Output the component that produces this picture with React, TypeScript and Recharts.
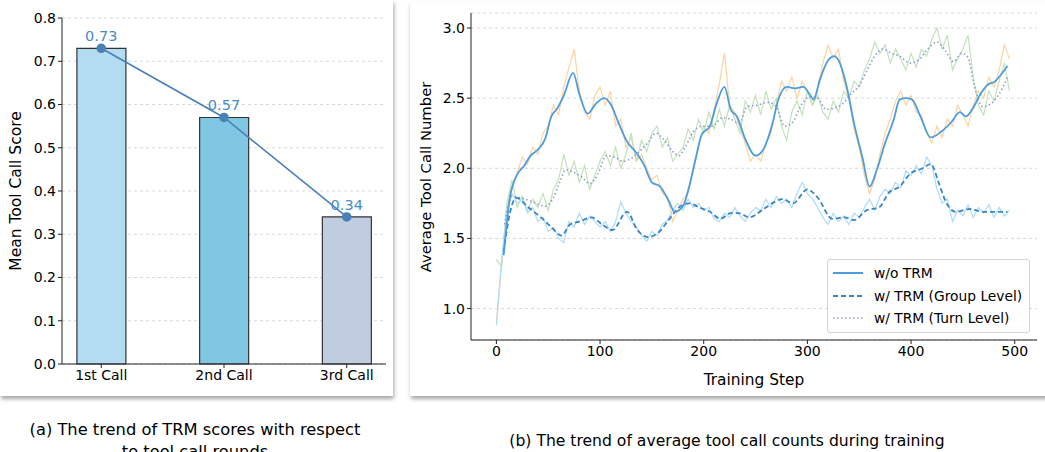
import { ComposedChart, LineChart, Bar, Cell, Line, LabelList, Label, XAxis, YAxis, CartesianGrid } from 'recharts'

const FONT = "'Comic Sans MS', 'DejaVu Sans', sans-serif"

// ---- (a) bar chart ----
const callLabels = ['1st Call', '2nd Call', '3rd Call']
const callScores = [0.73, 0.57, 0.34]
const barColors = ['#b3dcf2', '#7fc7e3', '#c0cde0']
const scoreTicks = [0, 0.1, 0.2, 0.3, 0.4, 0.5, 0.6, 0.7, 0.8]

// ---- (b) training curves ----
const stepTicks = [0, 100, 200, 300, 400, 500]
const countTicks = [1.0, 1.5, 2.0, 2.5, 3.0]

// raw logs sampled every 5 steps (0..495)
const rawSteps = Array.from({ length: 100 }, (_, i) => i * 5)
const rawNoTrm = [
  0.90, 1.30, 1.70, 1.88, 1.97, 2.08, 2.03, 2.15, 2.10, 2.25,
  2.30, 2.45, 2.38, 2.58, 2.72, 2.85, 2.55, 2.40, 2.35, 2.52,
  2.58, 2.45, 2.55, 2.30, 2.35, 2.15, 2.22, 2.05, 2.10, 2.00,
  1.92, 1.95, 1.82, 1.80, 1.62, 1.70, 1.78, 1.82, 2.02, 2.15,
  2.30, 2.25, 2.42, 2.60, 2.82, 2.45, 2.40, 2.28, 2.18, 2.05,
  2.10, 2.05, 2.18, 2.25, 2.45, 2.62, 2.55, 2.65, 2.50, 2.62,
  2.55, 2.45, 2.58, 2.75, 2.88, 2.78, 2.85, 2.62, 2.50, 2.28,
  2.15, 1.95, 1.82, 1.92, 2.10, 2.25, 2.35, 2.48, 2.55, 2.45,
  2.52, 2.40, 2.38, 2.25, 2.18, 2.30, 2.22, 2.35, 2.30, 2.45,
  2.38, 2.30, 2.45, 2.55, 2.50, 2.65, 2.58, 2.70, 2.88, 2.78,
]
const rawTurn = [
  1.35, 1.30, 1.75, 1.92, 1.72, 1.80, 1.70, 1.78, 1.72, 1.82,
  1.70, 1.85, 1.92, 2.10, 1.95, 2.05, 1.90, 2.02, 1.85, 1.95,
  2.05, 2.12, 2.02, 2.15, 2.00, 2.10, 2.25, 2.05, 2.20, 2.12,
  2.25, 2.30, 2.15, 2.22, 2.05, 2.10, 2.15, 2.28, 2.20, 2.35,
  2.25, 2.40, 2.28, 2.42, 2.30, 2.45, 2.35, 2.25, 2.48, 2.40,
  2.52, 2.38, 2.55, 2.42, 2.50, 2.30, 2.20, 2.40, 2.48, 2.38,
  2.55, 2.45, 2.52, 2.40, 2.35, 2.48, 2.40, 2.55, 2.50, 2.62,
  2.58, 2.70, 2.78, 2.90, 2.82, 2.88, 2.75, 2.85, 2.78, 2.70,
  2.82, 2.72, 2.85, 2.80, 2.92, 3.00, 2.85, 2.95, 2.70, 2.78,
  2.85, 2.95, 2.65, 2.45, 2.38, 2.55, 2.48, 2.62, 2.75, 2.55,
]
const rawGroup = [
  0.88, 1.35, 1.68, 1.82, 1.75, 1.78, 1.68, 1.72, 1.62, 1.65,
  1.55, 1.58, 1.50, 1.47, 1.62, 1.58, 1.68, 1.60, 1.66, 1.62,
  1.58, 1.62, 1.55, 1.62, 1.76, 1.68, 1.62, 1.58, 1.52, 1.48,
  1.55, 1.52, 1.60, 1.63, 1.70, 1.75, 1.70, 1.78, 1.72, 1.75,
  1.70, 1.72, 1.64, 1.62, 1.68, 1.65, 1.72, 1.66, 1.62, 1.68,
  1.72, 1.70, 1.78, 1.72, 1.80, 1.75, 1.78, 1.72, 1.82, 1.90,
  1.82, 1.78, 1.72, 1.65, 1.60, 1.68, 1.62, 1.66, 1.60, 1.68,
  1.65, 1.72, 1.78, 1.70, 1.80, 1.85, 1.82, 1.90, 1.86, 1.98,
  1.95, 2.02, 1.96, 2.08, 2.02, 1.85, 1.75, 1.78, 1.62, 1.70,
  1.66, 1.74, 1.65, 1.72, 1.68, 1.74, 1.65, 1.72, 1.66, 1.70,
]

// smoothed curves
const noTrmSteps = [7, 13, 19, 27, 33, 41, 47, 53, 59, 65, 74, 80, 88, 96, 104, 110, 118, 126, 134, 142, 150, 158, 166, 172, 180, 186, 192, 198, 206, 212, 220, 226, 232, 240, 250, 258, 266, 272, 280, 288, 296, 302, 306, 312, 320, 326, 330, 338, 345, 353, 360, 367, 375, 383, 389, 395, 401, 409, 419, 429, 439, 447, 453, 459, 467, 473, 481, 487, 493]
const noTrmSmooth = [1.38, 1.79, 1.94, 2.02, 2.09, 2.14, 2.21, 2.37, 2.43, 2.52, 2.68, 2.53, 2.39, 2.46, 2.50, 2.46, 2.32, 2.19, 2.12, 2.03, 1.90, 1.87, 1.77, 1.69, 1.73, 1.87, 2.06, 2.24, 2.30, 2.45, 2.58, 2.42, 2.37, 2.21, 2.09, 2.14, 2.31, 2.49, 2.58, 2.57, 2.58, 2.53, 2.49, 2.63, 2.77, 2.80, 2.77, 2.58, 2.32, 2.08, 1.87, 1.99, 2.18, 2.34, 2.49, 2.50, 2.49, 2.37, 2.22, 2.26, 2.33, 2.40, 2.37, 2.42, 2.53, 2.59, 2.62, 2.67, 2.73]
const groupSteps = [7, 13, 19, 31, 43, 53, 63, 71, 80, 92, 102, 112, 126, 136, 146, 156, 166, 176, 186, 196, 206, 216, 226, 234, 244, 256, 266, 276, 286, 300, 310, 324, 336, 345, 357, 369, 379, 389, 399, 411, 419, 427, 433, 443, 457, 469, 481, 493]
const groupSmooth = [1.40, 1.68, 1.79, 1.72, 1.65, 1.58, 1.52, 1.60, 1.62, 1.65, 1.60, 1.56, 1.69, 1.56, 1.51, 1.54, 1.63, 1.72, 1.75, 1.72, 1.69, 1.64, 1.68, 1.68, 1.65, 1.70, 1.75, 1.78, 1.75, 1.85, 1.79, 1.64, 1.65, 1.63, 1.70, 1.72, 1.83, 1.87, 1.96, 2.00, 2.03, 1.89, 1.77, 1.69, 1.71, 1.69, 1.69, 1.69]
const turnSteps = [8, 15, 23, 35, 47, 55, 61, 67, 75, 82, 90, 98, 106, 114, 122, 130, 138, 146, 154, 162, 170, 176, 182, 190, 198, 208, 218, 226, 234, 242, 252, 262, 270, 278, 286, 294, 302, 310, 318, 326, 334, 342, 350, 357, 365, 373, 381, 389, 399, 407, 415, 425, 433, 441, 449, 455, 461, 469, 477, 485, 493]
const turnSmooth = [1.60, 1.80, 1.79, 1.76, 1.73, 1.79, 1.90, 1.99, 1.97, 1.94, 1.89, 1.96, 2.09, 2.08, 2.05, 2.07, 2.12, 2.18, 2.25, 2.20, 2.12, 2.09, 2.15, 2.26, 2.30, 2.30, 2.36, 2.35, 2.32, 2.44, 2.45, 2.47, 2.44, 2.30, 2.33, 2.45, 2.51, 2.50, 2.42, 2.43, 2.46, 2.53, 2.59, 2.69, 2.80, 2.85, 2.82, 2.80, 2.75, 2.77, 2.84, 2.90, 2.84, 2.76, 2.82, 2.79, 2.59, 2.44, 2.46, 2.53, 2.65]

const barData = callLabels.map((name, i) => ({ x: i, name, score: callScores[i] }))

// merge everything into one table keyed by step
function buildTrainTable() {
  const rows: Record<number, any> = {}
  const put = (steps: number[], vals: number[], key: string) => {
    steps.forEach((s, i) => {
      if (!rows[s]) rows[s] = { step: s }
      rows[s][key] = vals[i]
    })
  }
  put(rawSteps, rawNoTrm, 'rawNoTrm')
  put(rawSteps, rawGroup, 'rawGroup')
  put(rawSteps, rawTurn, 'rawTurn')
  put(noTrmSteps, noTrmSmooth, 'noTrm')
  put(groupSteps, groupSmooth, 'group')
  put(turnSteps, turnSmooth, 'turn')
  return Object.values(rows).sort((a, b) => a.step - b.step)
}
const trainData = buildTrainTable()

const COLORS = {
  noTrm: '#4c9de0',
  group: '#3a86c6',
  turn: '#8d9fca',
  rawNoTrm: '#ffd3a0',
  rawGroup: '#addcf7',
  rawTurn: '#c2e2bc',
}

const tickStyle = { fill: '#000', fontSize: 14, fontFamily: FONT }

const card: React.CSSProperties = {
  position: 'absolute',
  background: '#fff',
  boxShadow: '1px 3px 4px rgba(0,0,0,0.35)',
}

function Legend() {
  const rows = [
    { label: 'w/o TRM', color: COLORS.noTrm, dash: undefined as string | undefined, w: 2 },
    { label: 'w/ TRM (Group Level)', color: COLORS.group, dash: '5 3', w: 2 },
    { label: 'w/ TRM (Turn Level)', color: COLORS.turn, dash: '1.5 2.5', w: 1.5 },
  ]
  return (
    <div style={{
      position: 'absolute', left: 827, top: 259, width: 203, height: 74,
      border: '1px solid #d4d4d4', borderRadius: 3, background: 'rgba(255,255,255,0.85)',
      fontFamily: FONT, fontSize: 13.8, color: '#000', boxSizing: 'border-box',
    }}>
      {rows.map((r, i) => (
        <div key={r.label} style={{ position: 'absolute', left: 0, top: 3 + i * 22.5, height: 20, display: 'flex', alignItems: 'center' }}>
          <svg width={40} height={8} style={{ marginLeft: 5 }}>
            <line x1={0} y1={4} x2={30} y2={4} stroke={r.color} strokeWidth={r.w} strokeDasharray={r.dash} />
          </svg>
          <span style={{ marginLeft: 1, whiteSpace: 'nowrap' }}>{r.label}</span>
        </div>
      ))}
    </div>
  )
}

export default function App() {
  return (
    <div style={{ position: 'absolute', left: 0, top: 0, width: 1045, height: 452, background: '#fff', overflow: 'hidden', fontFamily: FONT }}>
      <div style={{ ...card, left: 0, top: 0, width: 393, height: 396 }} />
      <div style={{ ...card, left: 410, top: 2, width: 640, height: 394 }} />

      <div style={{ position: 'absolute', left: 0, top: 0 }}>
        <ComposedChart width={394} height={397} data={barData} margin={{ top: 18, right: 8, bottom: 0, left: 0 }}>
          <CartesianGrid vertical={false} stroke="#d8d8d8" strokeDasharray="3 3" />
          <XAxis
            dataKey="x" type="number" domain={[-0.32, 2.32]} ticks={[0, 1, 2]} allowDataOverflow
            tickFormatter={(v: number) => callLabels[v]} stroke="#222" tick={tickStyle} tickSize={4} height={33}
          />
          <YAxis
            domain={[0, 0.8]} ticks={scoreTicks} tickFormatter={(v: number) => v.toFixed(1)}
            stroke="#222" tick={tickStyle} tickSize={4} width={62}
          >
            <Label content={() => (
              <text x={16} y={191} transform="rotate(-90 16 191)" textAnchor="middle" dominantBaseline="central"
                fontSize={15.5} fontFamily={FONT} fill="#000">Mean Tool Call Score</text>
            )} />
          </YAxis>
          <Bar dataKey="score" barSize={49} stroke="#333" strokeWidth={1.2} isAnimationActive={false}>
            {barData.map((d, i) => <Cell key={d.name} fill={barColors[i]} />)}
          </Bar>
          <Line dataKey="score" stroke="#4a80b8" strokeWidth={1.6} isAnimationActive={false}
            dot={{ r: 4, fill: '#4a80b8', stroke: '#4a80b8' }}>
            <LabelList dataKey="score" position="top" offset={7} fill="#4a8ac8" fontSize={14.5} fontFamily={FONT}
              formatter={(v: any) => Number(v).toFixed(2)} />
          </Line>
        </ComposedChart>
      </div>

      <div style={{ position: 'absolute', left: 408, top: 0 }}>
        <LineChart width={637} height={396} data={trainData} margin={{ top: 13, right: 8, bottom: 0, left: 0 }}>
          <CartesianGrid vertical={false} stroke="#d8d8d8" strokeDasharray="3 3" />
          <XAxis
            dataKey="step" type="number" domain={[-24.5, 521.5]} ticks={stepTicks} allowDataOverflow
            stroke="#222" tick={tickStyle} tickSize={4} height={56}
          >
            <Label value="Training Step" position="insideBottom" offset={11} fontSize={15.4} fontFamily={FONT} fill="#000" />
          </XAxis>
          <YAxis
            domain={[0.776, 3.107]} ticks={countTicks} allowDataOverflow tickFormatter={(v: number) => v.toFixed(1)}
            stroke="#222" tick={tickStyle} tickSize={4} width={63}
          >
            <Label content={() => (
              <text x={17} y={177} transform="rotate(-90 17 177)" textAnchor="middle" dominantBaseline="central"
                fontSize={14.8} fontFamily={FONT} fill="#000">Average Tool Call Number</text>
            )} />
          </YAxis>
          <Line dataKey="rawNoTrm" stroke={COLORS.rawNoTrm} strokeWidth={1.2} dot={false} connectNulls isAnimationActive={false} />
          <Line dataKey="rawTurn" stroke={COLORS.rawTurn} strokeWidth={1.2} dot={false} connectNulls isAnimationActive={false} />
          <Line dataKey="rawGroup" stroke={COLORS.rawGroup} strokeWidth={1.2} dot={false} connectNulls isAnimationActive={false} />
          <Line type="monotone" dataKey="turn" stroke={COLORS.turn} strokeWidth={1.6} strokeDasharray="1.5 2.5" dot={false} connectNulls isAnimationActive={false} />
          <Line type="monotone" dataKey="group" stroke={COLORS.group} strokeWidth={1.8} strokeDasharray="5 3" dot={false} connectNulls isAnimationActive={false} />
          <Line type="monotone" dataKey="noTrm" stroke={COLORS.noTrm} strokeWidth={1.8} dot={false} connectNulls isAnimationActive={false} />
        </LineChart>
      </div>

      <Legend />

      <div style={{ position: 'absolute', left: 0, top: 419, width: 390, textAlign: 'center', fontSize: 16.3, lineHeight: '22px', color: '#000' }}>
        (a) The trend of TRM scores with respect<br />to tool call rounds
      </div>
      <div style={{ position: 'absolute', left: 427, top: 430, width: 600, textAlign: 'center', fontSize: 15.6, lineHeight: '22px', color: '#000' }}>
        (b) The trend of average tool call counts during training
      </div>
    </div>
  )
}
